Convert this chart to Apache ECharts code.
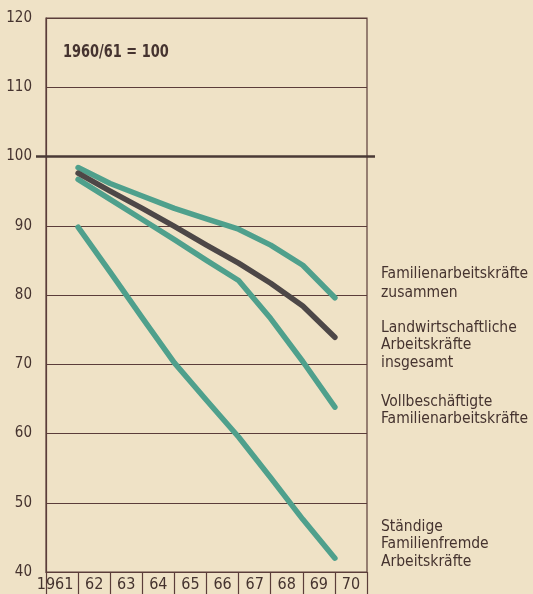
<!DOCTYPE html>
<html><head><meta charset="utf-8">
<script src="https://cdn.jsdelivr.net/npm/echarts@6/dist/echarts.min.js"></script>
<style>html,body{margin:0;padding:0;background:#efe2c6;}#c{width:533px;height:594px;}</style>
</head><body><div id="c"></div>
<script>
const yearLabels = ['1961','62','63','64','65','66','67','68','69','70'];
const xPositions = [1,2,3,4,5,6,7,8,9];
const familienZusammen = [98.4, 96.1, 94.3, 92.5, 91.0, 89.5, 87.2, 84.3, 79.6];
const insgesamt = [97.6, 95.0, 92.5, 89.9, 87.2, 84.6, 81.7, 78.4, 73.9];
const vollbeschaeftigte = [96.7, 93.8, 90.9, 88.0, 85.0, 82.1, 76.6, 70.4, 63.8];
const familienfremde = [89.8, 83.3, 76.7, 70.2, 64.8, 59.5, 53.6, 47.6, 42.0];
const yTicks = [40, 50, 60, 70, 80, 90, 100, 110, 120];

const FONT = '"Liberation Sans Narrow","DejaVu Sans Condensed","Roboto",sans-serif';
const INK = '#45332f';
const GRID = '#5b3d3a';
const GREEN = '#4fa08c';
const DARK = '#4d4747';

function pairs(vals){ return vals.map((v,i)=>[xPositions[i], v]); }

const chart = echarts.init(document.getElementById('c'), null, {renderer:'canvas'});
chart.setOption({
  backgroundColor: '#efe2c6',
  animation: false,
  grid: {left: 46, right: 166, top: 18, bottom: 22, show: true, borderColor: GRID, borderWidth: 1.2, backgroundColor: 'transparent'},
  xAxis: [
    {type: 'value', min: 0, max: 10, interval: 1, show: false},
    {type: 'category', data: yearLabels, position: 'bottom', boundaryGap: true,
     axisLine: {show: true, lineStyle: {color: GRID, width: 1.2}},
     axisTick: {show: true, interval: 0, length: 24, lineStyle: {color: GRID, width: 1.2}},
     axisLabel: {interval: 0, color: INK, fontFamily: FONT, fontSize: 16, margin: 5,
       formatter: (v, i) => i === 0 ? '{a|' + v + '}' : v,
       rich: {a: {color: INK, fontFamily: FONT, fontSize: 16, padding: [0, 14, 0, 0]}}},
     splitLine: {show: false}}
  ],
  yAxis: [
    {type: 'value', min: 40, max: 120, interval: 10,
     axisLine: {show: true, lineStyle: {color: GRID, width: 1.2}},
     axisTick: {show: false},
     axisLabel: {color: INK, fontFamily: FONT, fontSize: 15, margin: 14,
       customValues: yTicks},
     splitLine: {show: true, lineStyle: {color: GRID, width: 1.2}}},
    {type: 'value', min: 40, max: 120, position: 'left',
     axisLine: {show: false}, axisLabel: {show: false}, splitLine: {show: false},
     axisTick: {show: true, length: 10, customValues: [100], lineStyle: {color: '#4a3a36', width: 2.5}}},
    {type: 'value', min: 40, max: 120, position: 'right',
     axisLine: {show: false}, axisLabel: {show: false}, splitLine: {show: false},
     axisTick: {show: true, length: 8, customValues: [100], lineStyle: {color: '#4a3a36', width: 2.5}}}
  ],
  series: [
    {type: 'line', xAxisIndex: 0, yAxisIndex: 0, data: [[0,100],[10,100]], symbol: 'none', silent: true,
     lineStyle: {color: '#4a3a36', width: 2.5}, z: 1},
    {name: 'Ständige Familienfremde Arbeitskräfte', type: 'line', xAxisIndex: 0, data: pairs(familienfremde), symbol: 'none',
     lineStyle: {color: GREEN, width: 5.5, cap: 'round', join: 'round'}, z: 3},
    {name: 'Vollbeschäftigte Familienarbeitskräfte', type: 'line', xAxisIndex: 0, data: pairs(vollbeschaeftigte), symbol: 'none',
     lineStyle: {color: GREEN, width: 5.5, cap: 'round', join: 'round'}, z: 3},
    {name: 'Familienarbeitskräfte zusammen', type: 'line', xAxisIndex: 0, data: pairs(familienZusammen), symbol: 'none',
     lineStyle: {color: GREEN, width: 5.5, cap: 'round', join: 'round'}, z: 3},
    {name: 'Landwirtschaftliche Arbeitskräfte insgesamt', type: 'line', xAxisIndex: 0, data: pairs(insgesamt), symbol: 'none',
     lineStyle: {color: DARK, width: 5.5, cap: 'round', join: 'round'}, z: 4}
  ],
  graphic: [
    {type: 'text', x: 63, y: 43, scaleX: 0.8, style: {text: '1960/61 = 100', fill: INK, font: '600 18px ' + FONT}},
    {type: 'text', left: 381, top: 264, style: {text: 'Familienarbeitskräfte\nzusammen', fill: INK, font: '15.5px ' + FONT, lineHeight: 19}},
    {type: 'text', left: 381, top: 319, style: {text: 'Landwirtschaftliche\nArbeitskräfte\ninsgesamt', fill: INK, font: '15.5px ' + FONT, lineHeight: 17.5}},
    {type: 'text', left: 381, top: 393, style: {text: 'Vollbeschäftigte\nFamilienarbeitskräfte', fill: INK, font: '15.5px ' + FONT, lineHeight: 17.5}},
    {type: 'text', left: 381, top: 518, style: {text: 'Ständige\nFamilienfremde\nArbeitskräfte', fill: INK, font: '15.5px ' + FONT, lineHeight: 17.5}}
  ]
});
</script></body></html>
